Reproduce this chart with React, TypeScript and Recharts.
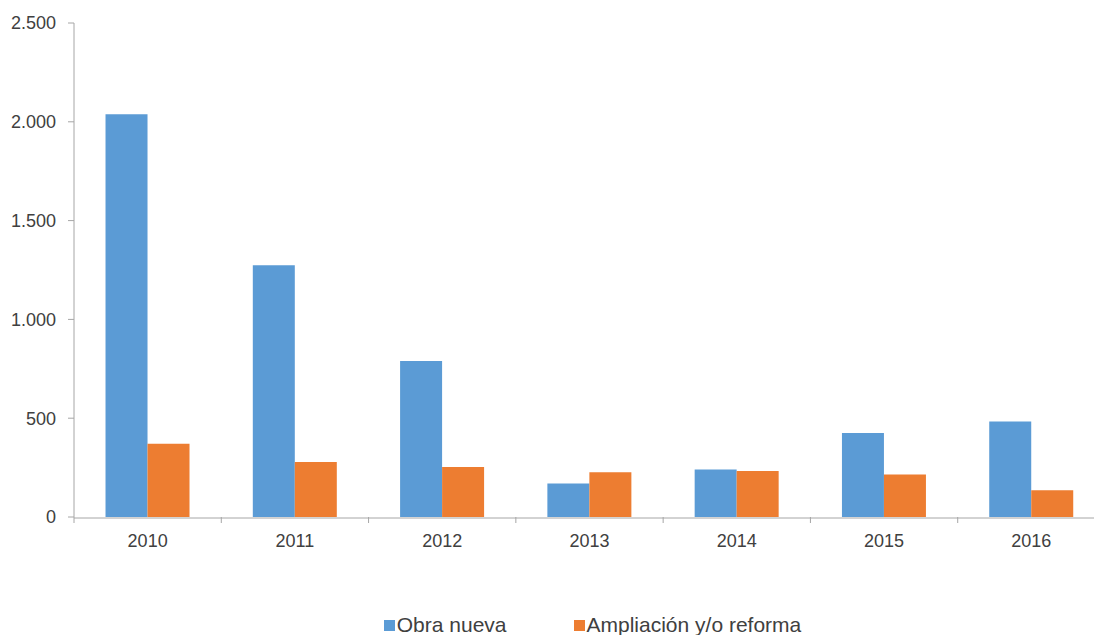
import React from 'react';
import { BarChart, Bar, XAxis, YAxis, Legend } from 'recharts';

const years = ['2010', '2011', '2012', '2013', '2014', '2015', '2016'];
const obraNueva = [2038, 1274, 789, 169, 240, 425, 483];
const ampliacion = [371, 278, 253, 226, 233, 215, 135];
const seriesNames = ['Obra nueva', 'Ampliación y/o reforma'];
const seriesColors = ['#5B9BD5', '#ED7D31'];
const yTicks = [0, 500, 1000, 1500, 2000, 2500];
const boundaryTicks = [0, 1, 2, 3, 4, 5, 6, 7];

const data = years.map((y, i) => ({
  year: y,
  idx: i + 0.5,
  obra: obraNueva[i],
  amp: ampliacion[i],
}));

const FONT = '"Liberation Sans", Arial, sans-serif';
const AXIS = '#a6a6a6';
const TEXT = '#404040';

const fmt = (v: number) => v.toString().replace(/\B(?=(\d{3})+(?!\d))/g, '.');

const LegendContent = (props: any) => {
  const payload = [...(props.payload || [])].sort(
    (a: any, b: any) => seriesNames.indexOf(a.value) - seriesNames.indexOf(b.value)
  );
  return (
    <div style={{ display: 'flex', justifyContent: 'center', fontFamily: FONT, fontSize: 21, color: TEXT, height: 24, lineHeight: '24px' }}>
      {payload.map((p: any, i: number) => (
        <div key={i} style={{ display: 'flex', alignItems: 'center', marginRight: i === 0 ? 67 : 0 }}>
          <span style={{ display: 'inline-block', width: 11, height: 11, background: p.color, marginRight: 2 }} />
          <span>{p.value}</span>
        </div>
      ))}
    </div>
  );
};

export default function App() {
  return (
    <div style={{ position: 'fixed', left: 0, top: 0, width: 1094, height: 635, overflow: 'hidden', background: '#fff' }}>
      <BarChart
        width={1120}
        height={635}
        data={data}
        margin={{ top: 23, right: 15, left: 0, bottom: 53 }}
        barGap={0}
        barCategoryGap="21.4%"
      >
        <XAxis
          xAxisId="b"
          type="number"
          dataKey="idx"
          domain={[0, 7]}
          ticks={boundaryTicks}
          height={1}
          axisLine={false}
          tickLine={{ stroke: AXIS }}
          tickSize={6}
          tick={() => <g />}
          allowDataOverflow
        />
        <XAxis
          xAxisId="cat"
          dataKey="year"
          height={40}
          axisLine={{ stroke: AXIS }}
          tickLine={false}
          tick={{ fontSize: 18, fill: TEXT, fontFamily: FONT }}
          tickMargin={10}
        />
        <YAxis
          width={74}
          domain={[0, 2500]}
          ticks={yTicks}
          tickFormatter={fmt}
          axisLine={{ stroke: AXIS }}
          tickLine={{ stroke: AXIS }}
          tickSize={6}
          tickMargin={12}
          tick={{ fontSize: 18, fill: TEXT, fontFamily: FONT }}
        />
        <Legend
          verticalAlign="bottom"
          content={<LegendContent />}
          wrapperStyle={{ bottom: -2, left: 40 }}
        />
        <Bar xAxisId="cat" dataKey="obra" name={seriesNames[0]} fill={seriesColors[0]} isAnimationActive={false} />
        <Bar xAxisId="cat" dataKey="amp" name={seriesNames[1]} fill={seriesColors[1]} isAnimationActive={false} />
      </BarChart>
    </div>
  );
}
